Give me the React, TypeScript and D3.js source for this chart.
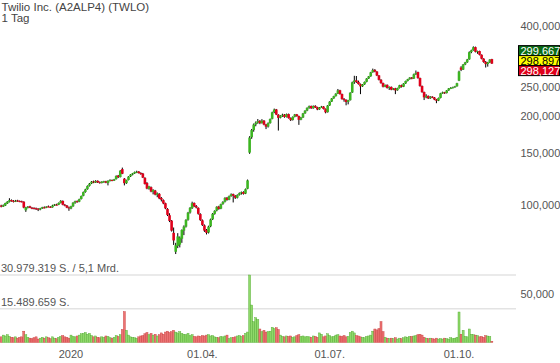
import React from "react";
import * as d3 from "d3";

const title = "Twilio Inc. (A2ALP4) (TWLO)";
const period = "1 Tag";

const opens = [
  99.6, 98.8, 99.6, 101.2, 102.5, 103.9, 103.2, 102.6, 103.6, 103.1,
  102.9, 102.6, 96.0, 98.0, 99.0, 97.9, 97.8, 97.5, 97.2, 96.6,
  97.4, 98.2, 97.9, 98.9, 98.6, 98.2, 99.6, 100.3, 100.2, 101.6,
  103.2, 100.2, 99.6, 98.2, 97.4, 99.0, 101.8, 103.0, 102.6, 104.8,
  107.4, 110.6, 113.0, 116.0, 118.2, 120.0, 119.0, 120.6, 119.4, 118.6,
  119.8, 120.2, 118.6, 120.6, 121.4, 120.8, 122.2, 125.6, 124.2, 132.0,
  122.6, 118.4, 121.4, 124.8, 126.6, 127.8, 129.2, 129.6, 128.2, 127.6,
  123.4, 118.6, 113.4, 114.8, 110.8, 111.8, 108.2, 109.0, 105.6, 103.8,
  101.4, 97.0, 92.4, 88.6, 80.6, 69.6, 72.8, 73.6, 77.0, 82.0,
  84.6, 89.2, 94.4, 97.6, 101.6, 99.2, 97.8, 93.2, 88.8, 85.4,
  82.4, 80.8, 84.8, 89.6, 93.4, 95.8, 98.8, 97.2, 100.8, 102.6,
  105.8, 104.2, 107.2, 108.8, 107.4, 105.8, 108.2, 109.8, 110.6, 109.2,
  113.4, 150.0, 169.0, 178.8, 186.6, 189.4, 191.8, 188.4, 192.2, 186.6,
  183.6, 188.6, 195.0, 205.4, 209.6, 201.2, 196.6, 199.6, 201.4, 197.8,
  202.2, 196.2, 193.2, 198.0, 201.8, 199.2, 193.6, 197.0, 203.4, 207.8,
  212.4, 215.2, 211.6, 215.4, 213.2, 209.8, 213.0, 214.4, 210.6, 205.2,
  216.2, 222.8, 228.4, 232.4, 237.0, 243.2, 236.2, 227.2, 225.8, 222.2,
  225.2, 239.0, 258.8, 262.6, 259.4, 255.0, 250.8, 254.6, 259.6, 266.4,
  271.0, 279.6, 284.8, 281.2, 272.8, 263.8, 257.2, 250.2, 253.6, 247.8,
  249.6, 244.6, 246.8, 243.2, 247.4, 253.0, 250.0, 256.4, 261.4, 265.0,
  268.4, 266.2, 275.2, 280.0, 267.4, 251.4, 239.8, 230.4, 232.8, 228.6,
  231.4, 230.0, 226.6, 224.4, 229.2, 237.8, 239.4, 238.0, 243.0, 246.8,
  247.8, 249.2, 250.8, 262.0, 290.0, 285.4, 297.0, 302.0, 309.0, 327.0,
  331.6, 339.6, 327.8, 329.4, 320.2, 310.6, 302.8, 298.0, 301.8, 309.6,
];
const highs = [
  100.2, 100.4, 101.8, 103.0, 105.4, 104.4, 103.8, 104.0, 104.1, 103.6,
  103.4, 102.9, 98.6, 99.2, 99.4, 98.4, 98.2, 98.0, 97.6, 97.8,
  98.6, 98.9, 99.0, 99.6, 99.0, 100.2, 100.8, 101.0, 102.0, 103.8,
  103.6, 100.8, 100.0, 98.8, 99.4, 102.2, 103.4, 103.6, 105.0, 107.6,
  111.0, 113.4, 116.4, 118.6, 120.4, 120.8, 121.2, 121.0, 120.0, 120.2,
  120.6, 120.6, 121.0, 122.0, 121.8, 122.4, 125.8, 126.2, 131.0, 133.6,
  123.2, 121.6, 125.0, 127.0, 128.2, 129.6, 130.4, 130.0, 128.8, 128.2,
  124.0, 119.4, 116.0, 115.4, 113.0, 112.4, 110.2, 109.6, 106.4, 104.4,
  101.8, 97.6, 93.8, 89.0, 84.0, 74.6, 80.4, 78.4, 82.8, 85.4,
  89.6, 94.8, 98.4, 102.6, 102.0, 100.0, 98.2, 93.8, 89.4, 86.0,
  83.0, 85.2, 90.0, 94.0, 96.0, 99.0, 99.4, 101.0, 103.0, 106.2,
  106.4, 107.6, 109.4, 109.2, 108.0, 108.6, 110.2, 111.0, 111.2, 113.6,
  121.8, 170.4, 180.2, 188.0, 191.0, 194.6, 193.0, 194.4, 193.0, 187.4,
  189.6, 195.4, 206.0, 211.0, 210.4, 202.0, 200.4, 202.8, 202.2, 203.0,
  203.0, 197.0, 198.6, 202.4, 202.4, 199.8, 197.6, 204.0, 208.4, 213.0,
  216.0, 216.0, 216.2, 216.6, 214.0, 213.6, 215.4, 215.0, 211.2, 216.8,
  223.4, 229.0, 233.0, 237.6, 245.6, 244.0, 237.0, 229.0, 226.6, 225.8,
  239.4, 260.0, 272.0, 271.6, 262.0, 256.2, 255.2, 260.2, 267.0, 271.6,
  280.4, 287.6, 286.4, 282.0, 273.6, 265.0, 258.0, 254.2, 254.4, 250.6,
  250.4, 247.4, 247.8, 248.0, 253.6, 254.0, 257.0, 262.0, 265.6, 269.0,
  269.4, 276.6, 283.4, 280.8, 268.2, 252.2, 240.6, 235.8, 233.6, 232.4,
  232.2, 230.8, 227.4, 229.8, 238.4, 240.6, 240.2, 243.6, 247.4, 249.2,
  250.0, 251.6, 257.6, 283.0, 293.0, 298.0, 303.0, 310.0, 328.6, 333.0,
  341.6, 341.0, 330.4, 330.4, 321.0, 311.6, 305.0, 303.0, 309.2, 310.2,
];
const lows = [
  98.2, 98.5, 99.2, 100.8, 102.0, 102.6, 102.0, 102.3, 102.5, 102.2,
  102.0, 97.5, 94.8, 97.4, 97.6, 96.8, 96.6, 96.2, 95.4, 96.0,
  97.0, 97.4, 97.6, 98.2, 97.8, 98.0, 99.2, 99.6, 99.9, 101.2,
  99.8, 99.0, 97.6, 95.6, 96.8, 98.6, 101.0, 101.8, 102.2, 104.4,
  107.0, 110.0, 112.6, 115.4, 117.6, 118.4, 118.6, 118.6, 118.0, 118.2,
  118.8, 118.4, 116.4, 120.0, 120.2, 120.4, 121.8, 123.2, 123.8, 127.0,
  116.4, 117.8, 121.0, 124.2, 125.8, 127.2, 128.0, 127.6, 126.4, 123.2,
  117.2, 113.0, 112.6, 110.4, 108.6, 107.8, 106.2, 104.6, 102.8, 100.6,
  96.8, 91.8, 87.6, 81.4, 73.4, 68.4, 71.6, 72.0, 74.6, 79.2,
  84.0, 88.6, 93.6, 97.0, 98.4, 97.4, 92.8, 88.4, 85.0, 81.2,
  79.6, 80.2, 84.2, 89.0, 92.8, 95.2, 96.4, 96.8, 100.2, 102.0,
  103.4, 103.8, 106.6, 102.0, 104.8, 105.2, 107.6, 108.4, 108.4, 108.8,
  113.0, 148.6, 167.0, 176.4, 184.0, 187.6, 187.0, 188.0, 185.4, 180.0,
  182.2, 187.8, 194.2, 203.6, 200.6, 178.0, 195.6, 198.0, 196.6, 197.0,
  195.2, 191.6, 192.4, 197.2, 198.2, 186.0, 192.8, 196.2, 202.6, 206.8,
  210.8, 210.6, 210.8, 212.0, 208.4, 209.0, 212.2, 209.6, 203.4, 204.6,
  215.4, 222.0, 227.6, 231.6, 236.2, 235.2, 226.2, 222.6, 216.4, 218.0,
  224.6, 238.2, 255.6, 257.4, 254.0, 236.0, 249.6, 253.6, 258.6, 265.4,
  270.0, 278.6, 279.6, 271.4, 262.4, 255.8, 248.6, 249.0, 246.4, 243.8,
  243.2, 243.4, 236.0, 242.4, 246.6, 248.4, 249.2, 255.4, 260.4, 264.0,
  264.8, 265.4, 273.8, 266.0, 250.0, 238.6, 225.4, 228.6, 227.2, 227.4,
  228.8, 225.2, 220.0, 223.6, 228.4, 236.6, 236.4, 237.2, 242.0, 245.4,
  246.6, 248.0, 250.0, 261.0, 282.0, 284.6, 295.4, 300.6, 308.0, 324.0,
  330.4, 326.0, 322.6, 318.6, 309.0, 301.0, 290.0, 292.0, 300.4, 298.2,
];
const closes = [
  98.7, 99.8, 101.5, 102.6, 103.8, 103.0, 102.6, 103.4, 103.0, 102.8,
  102.6, 98.0, 98.2, 98.6, 97.8, 97.6, 97.2, 97.0, 96.6, 97.5,
  98.3, 97.9, 98.8, 98.6, 98.2, 99.6, 100.4, 100.1, 101.6, 103.2,
  100.2, 99.6, 98.0, 97.4, 99.0, 101.8, 103.0, 102.4, 104.6, 107.2,
  110.5, 112.8, 115.8, 118.0, 119.8, 119.0, 120.4, 119.2, 118.6, 119.8,
  120.2, 118.8, 120.6, 121.4, 120.8, 122.0, 125.2, 124.0, 130.4, 127.4,
  118.4, 121.2, 124.6, 126.6, 127.8, 129.0, 129.4, 128.0, 127.0, 123.6,
  117.6, 113.6, 115.4, 111.0, 112.4, 108.4, 109.4, 105.2, 104.2, 101.2,
  97.4, 92.6, 88.4, 82.0, 76.0, 73.2, 78.4, 77.6, 82.4, 84.6,
  89.0, 94.2, 97.8, 101.4, 99.0, 98.0, 93.4, 89.0, 85.6, 82.0,
  80.6, 84.6, 89.4, 93.4, 95.6, 98.6, 97.0, 100.6, 102.4, 105.6,
  104.0, 107.0, 108.6, 107.4, 105.8, 108.0, 109.6, 110.4, 109.0, 113.0,
  121.0, 168.6, 178.6, 186.4, 189.2, 191.6, 188.6, 192.0, 186.4, 183.4,
  188.4, 194.6, 205.0, 209.4, 201.4, 196.4, 199.4, 201.2, 197.6, 202.0,
  196.0, 193.0, 197.8, 201.6, 199.0, 193.4, 196.8, 203.2, 207.6, 212.2,
  215.0, 211.4, 215.2, 213.0, 209.6, 212.8, 214.2, 210.4, 205.0, 216.0,
  222.6, 228.2, 232.2, 236.8, 243.0, 236.0, 227.0, 225.6, 222.0, 225.0,
  238.6, 258.6, 262.4, 259.2, 255.2, 250.6, 254.4, 259.4, 266.2, 270.8,
  279.4, 284.6, 281.0, 272.6, 263.6, 257.0, 250.0, 253.4, 247.6, 249.4,
  244.4, 246.6, 243.0, 247.2, 252.8, 249.8, 256.2, 261.2, 264.8, 268.2,
  266.0, 275.0, 278.2, 267.2, 251.2, 239.6, 230.2, 232.6, 228.4, 231.2,
  229.8, 226.4, 224.2, 229.0, 237.6, 239.2, 237.8, 242.8, 246.6, 247.6,
  249.0, 250.6, 256.8, 281.0, 285.0, 296.8, 301.8, 308.6, 326.6, 331.4,
  339.4, 327.6, 329.2, 320.0, 310.4, 302.6, 297.8, 301.6, 308.4, 298.9,
];
// volume in millions of shares
const volumes = [
  2.6, 3.4, 3.0, 3.6, 2.8, 2.4, 2.2, 2.6, 2.0, 2.4,
  2.6, 5.2, 3.6, 2.4, 2.0, 1.8, 2.2, 2.6, 1.6, 2.0,
  2.4, 2.0, 2.6, 2.2, 1.8, 2.6, 2.0, 1.8, 2.4, 2.8,
  3.2, 2.6, 2.4, 2.0, 3.4, 2.8, 2.6, 3.0, 3.4, 4.0,
  4.2, 4.6, 3.8, 4.2, 3.2, 2.6, 3.0, 2.4, 2.2, 2.6,
  2.4, 3.0, 2.8, 2.2, 2.0, 2.4, 3.2, 2.8, 3.6, 6.0,
  14.2, 5.6, 3.4, 2.6, 2.4, 2.2, 2.0, 2.6, 3.0, 3.2,
  4.0, 4.6, 3.6, 4.2, 3.4, 3.8, 3.0, 3.6, 4.4, 3.8,
  4.8, 5.2, 4.6, 5.0, 5.6, 4.8, 4.4, 5.0, 4.2, 3.8,
  3.6, 4.2, 3.2, 3.6, 2.8, 2.6, 3.0, 2.8, 3.2, 3.0,
  3.4, 3.6, 3.0, 3.2, 2.6, 2.4, 2.2, 2.8, 2.6, 3.0,
  3.4, 1.8, 2.2, 2.4, 2.6, 3.0, 3.2, 2.8, 3.2, 4.2,
  4.8, 30.979319, 17.2, 9.6, 11.4, 10.6, 6.2, 5.0, 5.6, 4.8,
  5.0, 5.2, 7.0, 6.4, 6.8, 6.0, 3.4, 2.8, 2.6, 3.0,
  2.8, 3.0, 2.4, 2.6, 3.2, 3.6, 2.8, 3.0, 2.6, 2.8,
  2.6, 2.4, 3.0, 2.8, 2.4, 4.4, 3.8, 2.6, 3.0, 4.0,
  3.2, 2.6, 2.8, 3.4, 3.6, 3.0, 2.8, 3.2, 2.6, 2.8,
  4.6, 5.2, 4.4, 3.2, 3.0, 2.6, 2.4, 2.2, 2.8, 3.0,
  3.4, 5.2, 6.2, 5.8, 6.4, 9.6, 5.0, 2.4, 2.0, 1.8,
  2.0, 1.8, 2.2, 1.6, 2.0, 1.8, 2.2, 2.6, 2.4, 2.8,
  2.8, 3.0, 3.2, 3.6, 3.8, 3.4, 2.4, 2.0, 1.8, 2.0,
  1.8, 1.6, 2.0, 1.6, 1.8, 1.6, 2.0, 1.8, 1.6, 2.2,
  1.8, 2.0, 2.4, 14.0, 3.8, 5.6, 2.8, 2.6, 6.2, 3.8,
  3.6, 3.4, 3.2, 2.6, 2.8, 2.4, 3.2, 3.0, 2.8, 0.6,
];

const priceTicks = [100, 150, 200, 250, 400];
const xTickLabels = ["2020", "01.04.", "01.07.", "01.10."];
const xTickIndex = [34, 98, 160, 223];
const quoteValues = [299.667, 298.897, 298.127];
const quoteColors = ["#0b6b16", "#ffff00", "#e0001b"];
const quoteText = ["#ffffff", "#000000", "#ffffff"];
const volumeTurnover = "5,1 Mrd.";
const volumeAxisLabel = 50;

const W = 560;
const H = 363;
const FONT = "Arial, 'Liberation Sans', sans-serif";
const UP = "#3cb521";
const DOWN = "#e0001b";

const de = d3.formatLocale({
  decimal: ",",
  thousands: ".",
  grouping: [3],
  currency: ["", " €"],
});
const fmtPrice = (v: number) => d3.format(".3f")(v).replace(".", ",");
const fmtVol = de.format(",d");

export default function App() {
  const n = closes.length;
  const x = d3.scaleLinear().domain([0, n - 1]).range([1.2, 1.2 + 2.053 * (n - 1)]);
  const y = d3.scaleLog().domain([100, 400]).range([205, 26]);
  const maxVol = d3.max(volumes) as number;
  const yv = d3.scaleLinear().domain([0, maxVol]).range([342.5, 275]);
  const bw = 2.6;
  const vw = 2.05;

  const maxShares = Math.round(maxVol * 1e6);
  const halfShares = Math.floor(maxShares / 2);

  const boxH = 10;
  const midY = y(quoteValues[1]) - 3;

  return (
    <svg width={W} height={H} style={{ position: "absolute", left: 0, top: 0, background: "#fff" }} fontFamily={FONT}>
      <text x={1.5} y={11} fontSize={11.5} fill="#444">{title}</text>
      <text x={1.5} y={22} fontSize={11.5} fill="#444">{period}</text>

      {/* volume panel grid */}
      <line x1={0} x2={516} y1={yv(maxVol)} y2={yv(maxVol)} stroke="#e3e3e3" strokeWidth={1.5} />
      <line x1={0} x2={516} y1={yv(maxVol / 2)} y2={yv(maxVol / 2)} stroke="#e3e3e3" strokeWidth={1.5} />
      <text x={1} y={yv(maxVol) - 3} fontSize={11} fill="#555">
        {`${fmtVol(maxShares)} S. / ${volumeTurnover}`}
      </text>
      <text x={1} y={yv(maxVol / 2) - 3} fontSize={11} fill="#555">
        {`${fmtVol(halfShares)} S.`}
      </text>
      <text x={520.5} y={298} fontSize={11} fill="#555">{fmtPrice(volumeAxisLabel)}</text>

      {/* volume bars */}
      {volumes.map((v, i) => {
        const up = closes[i] >= opens[i];
        return (
          <rect
            key={"v" + i}
            x={x(i) - vw / 2}
            y={yv(v)}
            width={vw}
            height={yv(0) - yv(v)}
            fill={up ? "#8fd96a" : "#ec7373"}
            stroke={up ? "#4fa82e" : "#c53a3a"}
            strokeWidth={0.4}
          />
        );
      })}

      {/* price axis labels */}
      {priceTicks.map((t) => (
        <text key={"p" + t} x={520.5} y={y(t) + 4} fontSize={11} fill="#555">
          {fmtPrice(t)}
        </text>
      ))}

      {/* candles */}
      {closes.map((c, i) => {
        const o = opens[i];
        const up = c >= o;
        const top = y(Math.max(o, c));
        const bot = y(Math.min(o, c));
        return (
          <g key={"c" + i}>
            <line x1={x(i)} x2={x(i)} y1={y(highs[i])} y2={y(lows[i])} stroke="#000" strokeWidth={1} />
            <rect x={x(i) - bw / 2} y={top} width={bw} height={Math.max(1, bot - top)} fill={up ? UP : DOWN} />
          </g>
        );
      })}

      {/* x axis labels */}
      {xTickLabels.map((l, k) => (
        <text key={"x" + l} x={x(xTickIndex[k])} y={358} fontSize={11} fill="#555" textAnchor="middle">
          {l}
        </text>
      ))}

      {/* quote boxes */}
      {quoteValues.map((v, k) => {
        const by = midY - boxH * 1.5 + k * boxH;
        return (
          <g key={"q" + k}>
            <rect x={518.5} y={by} width={41} height={boxH} fill={quoteColors[k]} stroke="#000" strokeWidth={1} />
            <text x={520.5} y={by + 9} fontSize={11} fill={quoteText[k]}>{fmtPrice(v)}</text>
          </g>
        );
      })}
    </svg>
  );
}
